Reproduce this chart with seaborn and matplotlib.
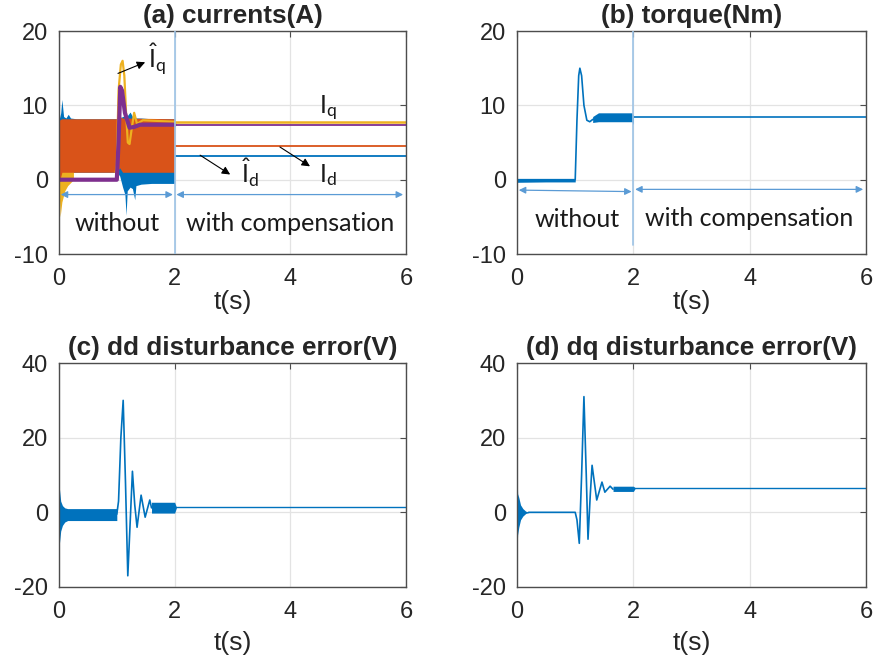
import matplotlib
matplotlib.use("Agg")
import matplotlib.pyplot as plt
import seaborn as sns

# MATLAB default line colours
BLUE = "#0072BD"
ORANGE = "#D95319"
YELLOW = "#EDB120"
PURPLE = "#7E2F8E"
NOTE_BLUE = "#5B9BD5"

# ---------------- (a) currents(A) ----------------
# without compensation: switching bands read as lower / upper envelopes
a_idh_t = [0.0, 0.03, 0.05, 0.08, 0.12, 0.16, 0.2, 0.3, 1.0, 1.05, 1.1, 1.14, 1.16,
           1.18, 1.23, 1.27, 1.31, 1.33, 1.42, 1.6, 2.0]
a_idh_hi = [8.0, 9.0, 10.8, 8.5, 8.3, 8.8, 8.3, 8.2, 8.2, 8.3, 8.5, 8.6, 8.5,
            8.6, 9.1, 8.5, 8.7, 8.3, 8.3, 8.2, 8.2]
a_idh_lo = [1.0, 1.0, 1.0, 1.0, 1.0, 1.0, 1.0, 1.0, 1.0, 0.5, -1.0, -2.0, -4.8,
            -1.5, -1.0, -1.2, -2.7, -0.8, -0.6, -0.5, -0.5]

a_id_t = [0.0, 0.05, 1.0, 1.05, 1.1, 2.0]
a_id_hi = [8.0, 8.2, 8.2, 8.5, 8.3, 8.2]
a_id_lo = [-0.5, 1.0, 1.0, 1.6, 1.0, 1.0]

a_iq_band_t = [0.0, 0.02, 0.05, 0.1, 0.15, 0.25]
a_iq_band_hi = [7.0, 7.0, 7.0, 7.0, 7.0, 7.0]
a_iq_band_lo = [-1.0, -5.0, -3.0, -1.5, -0.8, 0.0]

a_iq_t = [0.98, 1.0, 1.03, 1.07, 1.1, 1.13, 1.16, 1.19, 1.22, 1.26, 1.3, 1.35, 1.45, 2.0]
a_iq_v = [1.0, 2.0, 12.0, 15.5, 16.0, 14.0, 9.0, 5.0, 4.8, 7.0, 9.0, 7.5, 8.0, 7.8]

a_iqh_t = [0.0, 1.0, 1.03, 1.06, 1.09, 1.14, 1.22, 1.3, 1.4, 2.0]
a_iqh_v = [0.0, 0.0, 5.0, 12.5, 12.0, 9.0, 7.0, 7.1, 7.4, 7.4]

# with compensation: steady values
a_post_t = [2.0, 6.0]
a_post_idh = [3.2, 3.2]
a_post_id = [4.6, 4.6]
a_post_iq = [7.7, 7.7]
a_post_iqh = [7.4, 7.4]

# ---------------- (b) torque(Nm) ----------------
b_band1_t = [0.0, 0.5, 1.0]
b_band1_lo = [-0.35, -0.3, -0.3]
b_band1_hi = [0.15, 0.1, 0.1]
b_t = [0.0, 1.0, 1.03, 1.06, 1.08, 1.11, 1.15, 1.2, 1.25, 1.3, 1.4]
b_v = [0.0, 0.0, 8.0, 14.0, 15.0, 14.0, 10.0, 8.0, 7.8, 8.1, 8.4]
b_band2_t = [1.3, 1.4, 1.98, 2.0]
b_band2_lo = [7.7, 7.8, 7.8, 7.4]
b_band2_hi = [8.5, 9.0, 9.0, 8.6]
b_post_t = [2.0, 6.0]
b_post_v = [8.4, 8.4]

# ---------------- (c) dd disturbance error(V) ----------------
c_band1_t = [0.0, 0.01, 0.03, 0.06, 0.1, 0.15, 1.0]
c_band1_hi = [8.0, 6.0, 3.0, 1.8, 1.2, 1.0, 1.0]
c_band1_lo = [-10.7, -8.0, -5.0, -3.5, -2.6, -2.2, -2.2]
c_t = [1.0, 1.03, 1.07, 1.11, 1.15, 1.19, 1.23, 1.27, 1.31, 1.35, 1.42, 1.49, 1.57, 1.6]
c_v = [-0.5, 3.0, 20.0, 30.0, 8.0, -17.0, -3.0, 11.0, 2.0, -4.0, 4.6, -1.3, 3.3, 1.2]
c_band2_t = [1.6, 1.8, 2.0, 2.03]
c_band2_lo = [-0.2, -0.2, -0.2, 1.2]
c_band2_hi = [2.7, 2.7, 2.7, 1.4]
c_post_t = [2.0, 6.0]
c_post_v = [1.3, 1.3]

# ---------------- (d) dq disturbance error(V) ----------------
d_band1_t = [0.0, 0.01, 0.03, 0.06, 0.1, 0.15, 0.2]
d_band1_hi = [11.0, 5.0, 4.0, 2.0, 1.0, 0.3, 0.1]
d_band1_lo = [-10.0, -6.0, -4.0, -2.0, -1.0, -0.3, -0.1]
d_t = [0.2, 1.0, 1.03, 1.07, 1.11, 1.15, 1.19, 1.22, 1.26, 1.29, 1.37, 1.46, 1.51, 1.6, 1.65]
d_v = [0.0, 0.0, -2.0, -8.3, 10.0, 31.0, 10.0, -7.2, 5.0, 12.6, 3.3, 8.1, 5.4, 7.0, 6.2]
d_band2_t = [1.65, 1.8, 2.0, 2.03]
d_band2_lo = [5.6, 5.6, 5.6, 6.4]
d_band2_hi = [7.0, 7.0, 7.0, 6.6]
d_post_t = [2.0, 6.0]
d_post_v = [6.5, 6.5]

x_ticks = [0, 2, 4, 6]

sns.set_theme(style="whitegrid")
plt.rcParams["font.family"] = ["Liberation Sans", "DejaVu Sans"]
plt.rcParams["axes.unicode_minus"] = False
plt.rcParams["mathtext.fontset"] = "custom"
plt.rcParams["mathtext.rm"] = "Lato"
plt.rcParams["mathtext.it"] = "Lato:italic"

fig = plt.figure(figsize=(8.75, 6.65), dpi=100)
ax_a = fig.add_axes([0.0674, 0.618, 0.3966, 0.3353])
ax_b = fig.add_axes([0.5909, 0.618, 0.3989, 0.3353])
ax_c = fig.add_axes([0.0674, 0.1173, 0.3966, 0.3368])
ax_d = fig.add_axes([0.5909, 0.1173, 0.3989, 0.3368])


def style(ax, title, ylim, yticks, xlabelpad):
    ax.set_xlim(0, 6)
    ax.set_ylim(*ylim)
    ax.set_xticks(x_ticks)
    ax.set_yticks(yticks)
    ax.set_facecolor("white")
    ax.grid(True, color="#E3E3E3", lw=0.9)
    for s in ax.spines.values():
        s.set_color("#4D4D4D")
        s.set_linewidth(1.0)
    ax.tick_params(direction="in", length=4, width=0.8, colors="#4D4D4D",
                   labelcolor="#262626", labelsize=17, right=True, top=True)
    ax.tick_params(axis="x", pad=10)
    ax.tick_params(axis="y", pad=8)
    ax.set_title(title, fontsize=18.8, fontweight="bold", pad=6)
    ax.set_xlabel("t(s)", fontsize=19, color="#262626", labelpad=xlabelpad)
    ax.set_ylabel("")


def line(ax, t, v, color, lw=1.0):
    sns.lineplot(x=t, y=v, ax=ax, color=color, lw=lw, estimator=None, sort=False)


# (a)
ax = ax_a
ax.fill_between(a_idh_t, a_idh_lo, a_idh_hi, color=BLUE, lw=0)
ax.fill_between(a_iq_band_t, a_iq_band_lo, a_iq_band_hi, color=YELLOW, lw=0)
ax.fill_between(a_id_t, a_id_lo, a_id_hi, color=ORANGE, lw=0)
line(ax, a_iq_t, a_iq_v, YELLOW, 1.6)
line(ax, a_iqh_t, a_iqh_v, PURPLE, 3.0)
line(ax, a_post_t, a_post_idh, BLUE, 1.3)
line(ax, a_post_t, a_post_id, ORANGE, 1.3)
line(ax, a_post_t, a_post_iq, YELLOW, 1.8)
line(ax, a_post_t, a_post_iqh, PURPLE, 1.3)
style(ax, "(a) currents(A)", (-10, 20), [-10, 0, 10, 20], 0)
ax.axvline(2, color="#9DC3E6", lw=1.2, zorder=3)

# (b)
ax = ax_b
ax.fill_between(b_band1_t, b_band1_lo, b_band1_hi, color=BLUE, lw=0)
line(ax, b_t, b_v, BLUE, 1.2)
ax.fill_between(b_band2_t, b_band2_lo, b_band2_hi, color=BLUE, lw=0)
line(ax, b_post_t, b_post_v, BLUE, 1.2)
style(ax, "(b) torque(Nm)", (-10, 20), [-10, 0, 10, 20], 0)
ax.axvline(2, ymin=0.04, color="#9DC3E6", lw=1.2, zorder=3)

# (c)
ax = ax_c
ax.fill_between(c_band1_t, c_band1_lo, c_band1_hi, color=BLUE, lw=0)
line(ax, c_t, c_v, BLUE, 1.2)
ax.fill_between(c_band2_t, c_band2_lo, c_band2_hi, color=BLUE, lw=0)
line(ax, c_post_t, c_post_v, BLUE, 1.0)
style(ax, "(c) dd disturbance error(V)", (-20, 40), [-20, 0, 20, 40], 6)

# (d)
ax = ax_d
ax.fill_between(d_band1_t, d_band1_lo, d_band1_hi, color=BLUE, lw=0)
line(ax, d_t, d_v, BLUE, 1.2)
ax.fill_between(d_band2_t, d_band2_lo, d_band2_hi, color=BLUE, lw=0)
line(ax, d_post_t, d_post_v, BLUE, 1.0)
style(ax, "(d) dq disturbance error(V)", (-20, 40), [-20, 0, 20, 40], 6)

# annotations: span arrows and region labels
note_font = dict(family=["Lato", "DejaVu Sans"], fontsize=18, color="#1A1A1A",
                 ha="center", va="center", zorder=5)
span = dict(arrowstyle="<|-|>", color=NOTE_BLUE, lw=0.9, mutation_scale=10,
            shrinkA=0, shrinkB=0)
ax_a.annotate("", xy=(1.97, -2.0), xytext=(0.03, -2.0), arrowprops=span, zorder=5)
ax_a.annotate("", xy=(5.95, -2.0), xytext=(2.03, -2.0), arrowprops=span, zorder=5)
ax_a.text(1.0, -5.85, "without", **note_font)
ax_a.text(4.0, -5.85, "with compensation", **note_font)

ax_b.annotate("", xy=(1.97, -1.6), xytext=(0.03, -1.4), arrowprops=span, zorder=5)
ax_b.annotate("", xy=(5.95, -1.3), xytext=(2.03, -1.3), arrowprops=span, zorder=5)
ax_b.text(1.04, -5.4, "without", **note_font)
ax_b.text(3.99, -5.2, "with compensation", **note_font)

# signal labels with pointer arrows
ptr = dict(arrowstyle="-|>", color="black", lw=0.8, mutation_scale=12, shrinkA=0, shrinkB=0)
lab = dict(fontsize=18, color="#1A1A1A", ha="center", va="center", zorder=6)
ax_a.annotate("", xy=(1.49, 15.8), xytext=(1.02, 14.3), arrowprops=ptr, zorder=6)
ax_a.text(1.7, 16.2, r"$\hat{\mathrm{I}}_\mathrm{q}$", **lab)
ax_a.text(4.65, 9.6, r"$\mathrm{I}_\mathrm{q}$", **lab)
ax_a.annotate("", xy=(2.96, 0.7), xytext=(2.44, 3.3), arrowprops=ptr, zorder=6)
ax_a.text(3.3, 0.9, r"$\hat{\mathrm{I}}_\mathrm{d}$", **lab)
ax_a.annotate("", xy=(4.34, 1.8), xytext=(3.82, 4.4), arrowprops=ptr, zorder=6)
ax_a.text(4.65, 0.6, r"$\mathrm{I}_\mathrm{d}$", **lab)

fig.savefig("out.png", dpi=100, facecolor="white")
